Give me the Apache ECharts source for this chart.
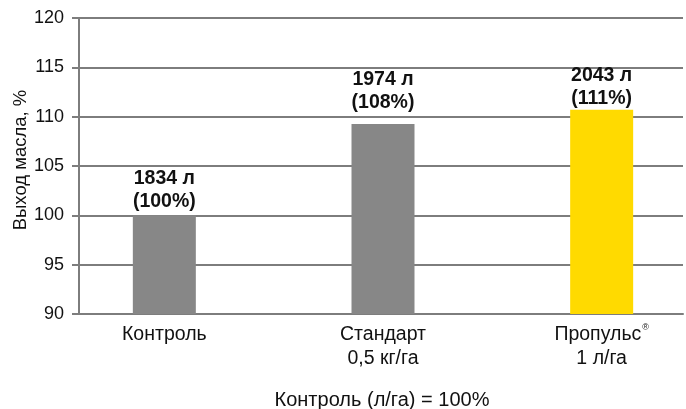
<!DOCTYPE html>
<html>
<head>
<meta charset="utf-8">
<script src="https://cdn.jsdelivr.net/npm/echarts@6/dist/echarts.min.js"></script>
<style>
html,body{margin:0;padding:0;background:#fff;}
#c{width:686px;height:409px;}
</style>
</head>
<body>
<div id="c"></div>
<script>
var categories = ['Контроль', 'Стандарт\n0,5 кг/га', 'Пропульс®\n1 л/га'];
var values = [100, 109.25, 110.7];
var volumes = [1834, 1974, 2043];
var percents = [100, 108, 111];
var barColors = ['#878787', '#878787', '#FFDA00'];
var labelDistance = [2, 10, 0];
var yTicks = { min: 90, max: 120, interval: 5 };
var yName = 'Выход масла, %';
var footnote = 'Контроль (л/га) = 100%';

var FONT = '"Liberation Sans", Arial, Helvetica, sans-serif';
var LINE = '#7d7d7d';

var chart = echarts.init(document.getElementById('c'));
chart.setOption({
  animation: false,
  backgroundColor: '#fff',
  textStyle: { fontFamily: FONT },
  grid: [
    { left: 79, right: 3, top: 18, bottom: 95, containLabel: false, outerBoundsMode: 'none' },
    { left: 55, width: 656, top: 18, bottom: 95, containLabel: false, outerBoundsMode: 'none' }
  ],
  xAxis: [
    {
      gridIndex: 0, type: 'value', min: 0, max: 1,
      axisLine: { show: true, lineStyle: { color: LINE, width: 2 } },
      axisTick: { show: false }, axisLabel: { show: false }, splitLine: { show: false }
    },
    {
      gridIndex: 1, type: 'category', data: categories,
      axisLine: { show: false }, axisTick: { show: false }, splitLine: { show: false },
      axisLabel: {
        margin: 9, fontSize: 19.5, lineHeight: 23.5, color: '#111', fontFamily: FONT,
        formatter: function (v) {
          if (v.indexOf('®') >= 0) {
            var parts = v.split('\n');
            return '{a|' + parts[0].replace('®', '') + '}{r|®}\n{a|' + parts[1] + '}';
          }
          return v;
        },
        rich: {
          a: { fontSize: 19.5, lineHeight: 23.5, color: '#111', fontFamily: FONT },
          r: { fontSize: 9, lineHeight: 23.5, color: '#111', fontFamily: FONT, verticalAlign: 'top', padding: [0, 0, 6, 1] }
        }
      }
    }
  ],
  yAxis: [
    {
      gridIndex: 0, type: 'value', min: yTicks.min, max: yTicks.max, interval: yTicks.interval,
      name: yName, nameLocation: 'middle', nameRotate: 90, nameGap: 49, nameMoveOverlap: false,
      nameTextStyle: { fontSize: 18.5, color: '#111', fontFamily: FONT, padding: [0, 0, 0, 12] },
      axisLine: { show: true, lineStyle: { color: LINE, width: 2 } },
      axisTick: { show: true, length: 7, lineStyle: { color: LINE, width: 2 } },
      axisLabel: { margin: 15, fontSize: 18, color: '#111', fontFamily: FONT },
      splitLine: { show: true, lineStyle: { color: LINE, width: 2 } }
    },
    {
      gridIndex: 1, type: 'value', min: yTicks.min, max: yTicks.max, interval: yTicks.interval,
      show: false, splitLine: { show: false }
    }
  ],
  graphic: [
    {
      type: 'text', x: 382, y: 400,
      style: { text: footnote, fill: '#111', font: '20px ' + FONT, textAlign: 'center', textVerticalAlign: 'middle' }
    }
  ],
  series: [
    {
      type: 'bar', xAxisIndex: 1, yAxisIndex: 1, barWidth: 63,
      data: values.map(function (v, i) {
        return {
          value: v,
          itemStyle: { color: barColors[i] },
          label: { distance: labelDistance[i] }
        };
      }),
      label: {
        show: true, position: 'top', fontSize: 19.5, fontWeight: 'bold', lineHeight: 23,
        color: '#111', fontFamily: FONT,
        formatter: function (p) {
          return volumes[p.dataIndex] + ' л\n(' + percents[p.dataIndex] + '%)';
        }
      }
    }
  ]
});
</script>
</body>
</html>
